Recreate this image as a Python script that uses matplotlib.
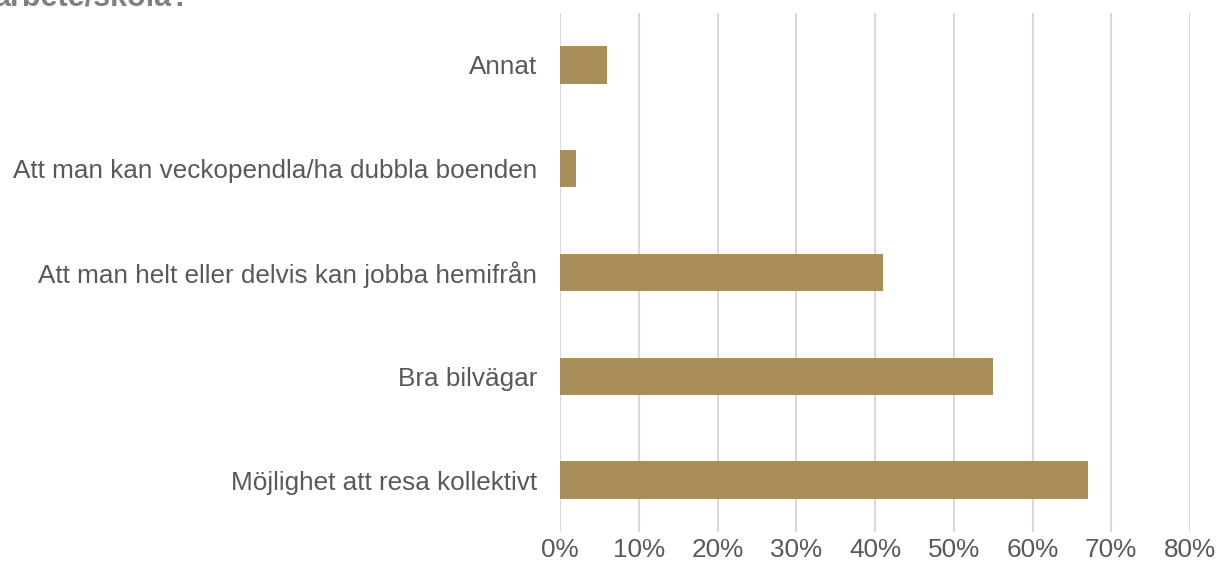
import matplotlib
matplotlib.use("Agg")
import matplotlib.pyplot as plt
from matplotlib.ticker import FuncFormatter

categories = ["Möjlighet att resa kollektivt", "Bra bilvägar",
              "Att man helt eller delvis kan jobba hemifrån",
              "Att man kan veckopendla/ha dubbla boenden", "Annat"]
values = [0.67, 0.55, 0.41, 0.02, 0.06]
xticks = [0, 0.1, 0.2, 0.3, 0.4, 0.5, 0.6, 0.7, 0.8]

plt.rcParams['font.family'] = ['Liberation Sans', 'DejaVu Sans']
fig = plt.figure(figsize=(12.21, 5.72), dpi=100)
W, H = 1221, 572
x0, x1 = 560, 1190
y_top, y_bot = 13, 532
ax = fig.add_axes([x0 / W, 1 - y_bot / H, (x1 - x0) / W, (y_bot - y_top) / H])

ax.barh(range(len(categories)), values, height=0.36, color="#a98e5a", zorder=3)
ax.set_xlim(0, 0.8)
ax.set_ylim(-0.5, len(categories) - 0.5)
ax.set_xticks(xticks)
ax.xaxis.set_major_formatter(FuncFormatter(lambda v, p: f"{round(v*100)}%"))
ax.set_yticks(range(len(categories)))
ax.set_yticklabels(categories)
ax.grid(axis="x", color="#d9d9d9", linewidth=1.5, zorder=0)
for s in ax.spines.values():
    s.set_visible(False)
ax.tick_params(axis="both", length=0, colors="#595959", labelsize=18.8)
ax.tick_params(axis="y", pad=16.5)
ax.tick_params(axis="x", pad=4)

fig.text(-0.006, 1.0 + 0.030, "arbete/skola?", fontsize=22, fontweight="bold",
         color="#808080", ha="left", va="top")
fig.savefig("out.png", dpi=100)
